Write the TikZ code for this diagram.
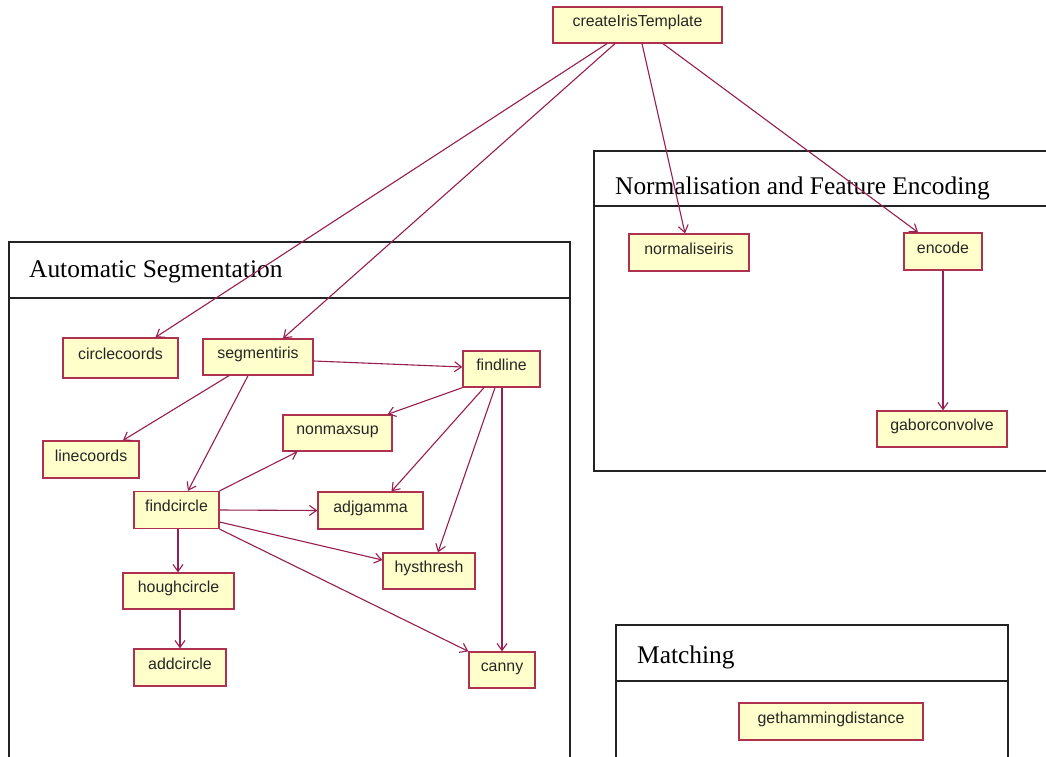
\documentclass[tikz,border=0pt]{standalone}
\usepackage{fontspec}
\setmainfont{Liberation Serif}
\setsansfont{Liberation Sans}
\usetikzlibrary{arrows.meta}

\definecolor{boxfill}{RGB}{255,255,204}
\definecolor{boxline}{RGB}{176,48,80}
\definecolor{linkcol}{RGB}{150,30,80}
\definecolor{framecol}{RGB}{35,35,35}

\begin{document}
\begin{tikzpicture}[x=1pt,y=-1pt,
  fn/.style 2 args={draw=boxline, line width=1.3pt, fill=boxfill,
    font=\sffamily\fontsize{15.9}{18}\selectfont, text=black!85,
    text height=8pt, text depth=5pt, inner sep=0pt,
    minimum width=#1pt, minimum height=#2pt},
  link/.style={draw=linkcol, line width=1.1pt,
    -{Straight Barb[length=7pt,width=10pt]}},
  frame/.style={draw=framecol, line width=1.5pt},
  title/.style={font=\rmfamily\fontsize{25.4}{29}\selectfont, inner sep=0pt, anchor=base west}]

% page
\fill[white] (0,0) rectangle (1046,757);
\useasboundingbox (0,0) rectangle (1046,757);

% package frames
\draw[frame] (9,757) -- (9,242) -- (570,242) -- (570,757);
\draw[frame] (9,298) -- (570,298);
\node[title] (tseg) at (29,277) {Automatic Segmentation};

\draw[frame] (1046,151) -- (594,151) -- (594,471) -- (1046,471);
\draw[frame] (594,206) -- (1046,206);
\node[title] (tnorm) at (615,194) {Normalisation and Feature Encoding};

\draw[frame] (616,757) -- (616,625) -- (1008,625) -- (1008,757);
\draw[frame] (616,681) -- (1008,681);
\node[title] (tmatch) at (637,663) {Matching};

% functions
\node[fn={169}{36}] (ci)    at (637.5,25)  {createIrisTemplate};
\node[fn={115}{40}] (circ)  at (120.5,358) {circlecoords};
\node[fn={110}{36}] (seg)   at (258,357)   {segmentiris};
\node[fn={77}{36}]  (fl)    at (501.5,369) {findline};
\node[fn={96}{37}]  (lc)    at (91,459.5)  {linecoords};
\node[fn={109}{36}] (nms)   at (337.5,433) {nonmaxsup};
\node[fn={85}{37}]  (fc)    at (176.5,510) {findcircle};
\node[fn={105}{37}] (adj)   at (370.5,510.5) {adjgamma};
\node[fn={92}{36}]  (hys)   at (429,571)   {hysthresh};
\node[fn={111}{36}] (hc)    at (178.5,591) {houghcircle};
\node[fn={92}{37}]  (ac)    at (180,667.5) {addcircle};
\node[fn={66}{36}]  (canny) at (502,670)   {canny};
\node[fn={120}{37}] (norm)  at (689,252.5) {normaliseiris};
\node[fn={78}{37}]  (enc)   at (943,251.5) {encode};
\node[fn={130}{36}] (gab)   at (942,429)   {gaborconvolve};
\node[fn={184}{37}] (ham)   at (831,721.5) {gethammingdistance};

% calls
\draw[link] ([xshift=-30.5pt]ci.south) -- ([xshift=35pt]circ.north);
\draw[link] ([xshift=-22.5pt]ci.south) -- ([xshift=25pt]seg.north);
\draw[link] ([xshift=4.5pt]ci.south) -- ([xshift=-4pt]norm.north);
\draw[link] ([xshift=25.5pt]ci.south) -- ([xshift=-25pt]enc.north);
\draw[link] (enc.south) -- (enc.south |- gab.north);

\draw[link] ([yshift=-4pt]seg.east) -- ([yshift=2pt]fl.west);
\draw[link] ([xshift=-29pt]seg.south) -- ([xshift=32pt]lc.north);
\draw[link] ([xshift=-10pt]seg.south) -- ([xshift=11.5pt]fc.north);

\draw[link] (fl.south west) -- ([xshift=50pt]nms.north);
\draw[link] ([xshift=-17.5pt]fl.south) -- ([xshift=21pt]adj.north);
\draw[link] ([xshift=-6.5pt]fl.south) -- ([xshift=9pt]hys.north);
\draw[link] ([xshift=0.5pt]fl.south) -- ([xshift=0.5pt]fl.south |- canny.north);

\draw[link] (fc.north east) -- ([xshift=-40pt]nms.south);
\draw[link] (fc.east) -- (adj.west);
\draw[link] ([yshift=-12pt]fc.east) -- ([yshift=11pt]hys.west);
\draw[link] (fc.south east) -- (canny.north west);
\draw[link] ([xshift=1.5pt]fc.south) -- ([xshift=1.5pt]fc.south |- hc.north);
\draw[link] ([xshift=1.5pt]hc.south) -- ([xshift=1.5pt]hc.south |- ac.north);
\end{tikzpicture}
\end{document}
